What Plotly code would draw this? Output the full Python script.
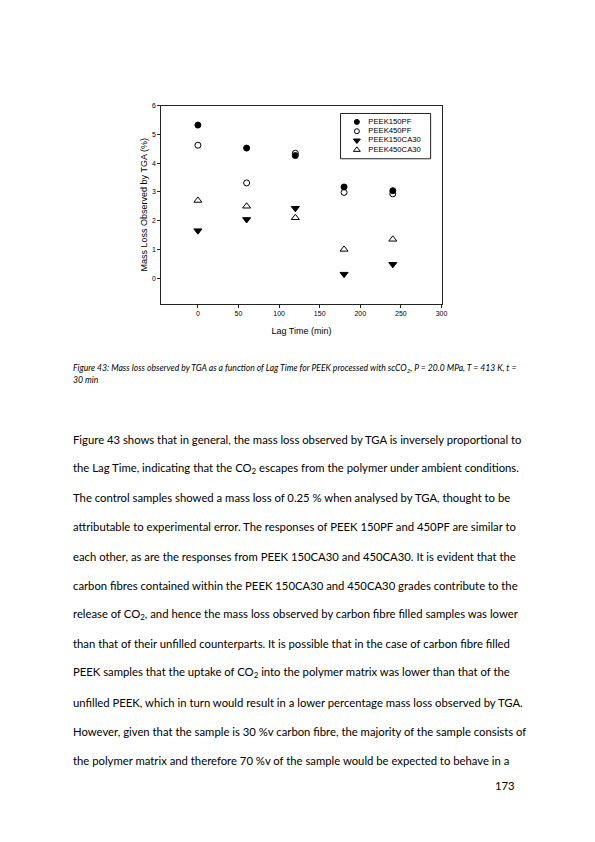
import plotly.graph_objects as go

W, H = 595, 842

# data
lag_time = [0, 60, 120, 180, 240]
peek150pf = [5.32, 4.52, 4.26, 3.17, 3.04]
peek450pf = [4.62, 3.31, 4.34, 2.98, 2.93]
peek150ca30 = [1.65, 2.04, 2.43, 0.14, 0.48]
peek450ca30 = [2.70, 2.50, 2.10, 1.00, 1.35]

series_names = ["PEEK150PF", "PEEK450PF", "PEEK150CA30", "PEEK450CA30"]
x_ticks = [0, 50, 100, 150, 200, 250, 300]
y_ticks = [0, 1, 2, 3, 4, 5, 6]

caption_lines = [
    "Figure 43: Mass loss observed by TGA as a function of Lag Time for PEEK processed with scCO<sub>2</sub>, "
    "P = 20.0 MPa, T = 413 K, t =",
    "30 min",
]

body_lines = [
    "Figure 43 shows that in general, the mass loss observed by TGA is inversely proportional to",
    "the Lag Time, indicating that the CO<sub>2</sub> escapes from the polymer under ambient conditions.",
    "The control samples showed a mass loss of 0.25 % when analysed by TGA, thought to be",
    "attributable to experimental error. The responses of PEEK 150PF and 450PF are similar to",
    "each other, as are the responses from PEEK 150CA30 and 450CA30. It is evident that the",
    "carbon fibres contained within the PEEK 150CA30 and 450CA30 grades contribute to the",
    "release of CO<sub>2</sub>, and hence the mass loss observed by carbon fibre filled samples was lower",
    "than that of their unfilled counterparts. It is possible that in the case of carbon fibre filled",
    "PEEK samples that the uptake of CO<sub>2</sub> into the polymer matrix was lower than that of the",
    "unfilled PEEK, which in turn would result in a lower percentage mass loss observed by TGA.",
    "However, given that the sample is 30 %v carbon fibre, the majority of the sample consists of",
    "the polymer matrix and therefore 70 %v of the sample would be expected to behave in a",
]
page_number = "173"


def px_x(x):
    return x / W


def px_y(y):
    return 1 - y / H


ARIAL = "Liberation Sans, Arial"
TEXT_FONT = "Lato, Noto Sans"

series_values = [peek150pf, peek450pf, peek150ca30, peek450ca30]
symbols = ["circle", "circle-open", "triangle-down", "triangle-up-open"]
sizes = [6, 6, 7, 7]

fig = go.Figure()
for name, values, symbol, size in zip(series_names, series_values, symbols, sizes):
    fig.add_trace(go.Scatter(
        x=lag_time, y=values, mode="markers", name=name, showlegend=False,
        marker=dict(symbol=symbol, size=size, color="black", line=dict(color="black", width=1)),
    ))

# hand-made legend: one row per series on its own small axes (x in pixels inside the box)
legend_rows = list(range(len(series_names)))
for row, name, symbol, size in zip(legend_rows, series_names, symbols, sizes):
    fig.add_trace(go.Scatter(
        x=[16.5], y=[row], mode="markers", showlegend=False, xaxis="x2", yaxis="y2",
        marker=dict(symbol=symbol, size=size - 1, color="black", line=dict(color="black", width=1)),
    ))
fig.add_trace(go.Scatter(
    x=[28] * len(series_names), y=legend_rows, mode="text", text=series_names,
    textposition="middle right", showlegend=False, xaxis="x2", yaxis="y2",
    textfont=dict(family=ARIAL, size=7.7, color="black"),
))

axis_font = dict(family=ARIAL, size=7, color="black")

fig.update_layout(
    width=W, height=H,
    margin=dict(l=0, r=0, t=0, b=0),
    paper_bgcolor="white", plot_bgcolor="white",
    xaxis=dict(
        domain=[px_x(163), px_x(446)], range=[-45, 300],
        tickvals=x_ticks, ticks="outside", ticklen=3, tickcolor="#222",
        showline=True, linecolor="#222", linewidth=1, mirror=True,
        showgrid=False, zeroline=False, tickfont=axis_font,
        title=dict(text="Lag Time (min)", font=dict(family=ARIAL, size=9, color="black"), standoff=11),
    ),
    yaxis=dict(
        domain=[px_y(301.5), px_y(102)], range=[-0.9, 6],
        tickvals=y_ticks, ticks="outside", ticklen=3, tickcolor="#222",
        showline=True, linecolor="#222", linewidth=1, mirror=True,
        showgrid=False, zeroline=False, tickfont=axis_font,
        title=dict(text="Mass Loss Observed by TGA (%)", font=dict(family=ARIAL, size=9, color="black"),
                   standoff=2),
    ),
    xaxis2=dict(domain=[px_x(344), px_x(435)], range=[0, 91], visible=False, fixedrange=True),
    yaxis2=dict(domain=[px_y(155), px_y(110)], range=[3.9, -0.9], visible=False, fixedrange=True),
    shapes=[dict(
        type="rect", xref="paper", yref="paper",
        x0=px_x(344), x1=px_x(435), y0=px_y(155.5), y1=px_y(110),
        line=dict(color="#222", width=1), fillcolor="rgba(0,0,0,0)",
    )],
)

annotations = []
for i, line in enumerate(caption_lines):
    annotations.append(dict(
        x=px_x(72), y=px_y(366 + i * 11.3), xref="paper", yref="paper",
        xanchor="left", yanchor="middle", showarrow=False, text="<i>" + line + "</i>",
        font=dict(family=TEXT_FONT, size=8.6, color="black"),
    ))

for i, line in enumerate(body_lines):
    annotations.append(dict(
        x=px_x(72), y=px_y(437.3 + i * 29.35), xref="paper", yref="paper",
        xanchor="left", yanchor="middle", showarrow=False, text=line,
        font=dict(family=TEXT_FONT, size=11.3, color="black"),
    ))

annotations.append(dict(
    x=px_x(522), y=px_y(785), xref="paper", yref="paper",
    xanchor="right", yanchor="middle", showarrow=False, text=page_number,
    font=dict(family=TEXT_FONT, size=11.3, color="black"),
))

fig.update_layout(annotations=annotations)

# page body has a default 8px margin; drop it so the figure sits at the window origin
fig.write_html("out.html", config={"displayModeBar": False},
               post_script="document.body.style.margin = '0';")
